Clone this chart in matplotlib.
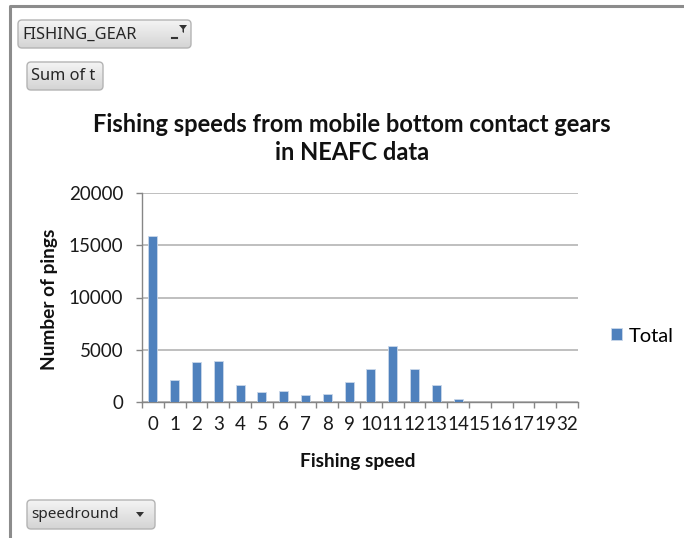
import numpy as np
import matplotlib
matplotlib.use("Agg")
import matplotlib.pyplot as plt
from matplotlib.patches import FancyBboxPatch, Polygon

# Pings per rounded fishing speed (knots)
speeds = ["0", "1", "2", "3", "4", "5", "6", "7", "8", "9", "10", "11",
          "12", "13", "14", "15", "16", "17", "19", "32"]
pings = [15900, 2150, 3820, 3910, 1600, 960, 1030, 670, 770, 1890, 3170,
         5380, 3170, 1600, 330, 30, 10, 5, 2, 1]
yticks = [0, 5000, 10000, 15000, 20000]

W, H = 684, 538
BLUE = "#4F81BD"
GRID = "#BFBFBF"
AXIS = "#868686"

plt.rcParams["font.family"] = ["Lato", "DejaVu Sans"]

fig = plt.figure(figsize=(W / 100, H / 100), dpi=100)
fig.patch.set_facecolor("white")


def fx(x):
    return x / W


def fy(y):
    return 1 - y / H


# background layer in pixel coordinates for the pivot frame and buttons
bg = fig.add_axes([0, 0, 1, 1])
bg.set_xlim(0, W)
bg.set_ylim(H, 0)
bg.axis("off")

bg.plot([10, 10, W], [H, 6, 6], color="#8C8C8C", lw=2.2, solid_capstyle="butt")


def button(x0, y0, x1, y1, label, size):
    box = FancyBboxPatch((x0, y0), x1 - x0, y1 - y0,
                         boxstyle="round,pad=0,rounding_size=4",
                         facecolor="none", edgecolor="#B4B4B4", lw=1)
    bg.add_patch(box)
    grad = np.linspace(0, 1, 50).reshape(-1, 1)
    im = bg.imshow(grad, cmap=matplotlib.colors.LinearSegmentedColormap.from_list(
        "btn", ["#F4F4F4", "#D4D4D4"]), extent=(x0, x1, y1, y0), aspect="auto",
        zorder=0.5)
    im.set_clip_path(box)
    bg.text(x0 + 4, (y0 + y1) / 2 + 0.5, label, ha="left", va="center",
            fontsize=size, color="#262626", family="Noto Sans")


button(18, 20, 191, 48, "FISHING_GEAR", 11.8)
button(27, 62, 103, 90, "Sum of t", 11.8)
button(27, 500, 155, 529, "speedround", 11)
bg.set_xlim(0, W)
bg.set_ylim(H, 0)

# filter and dropdown glyphs on the buttons
bg.add_patch(Polygon([[179, 25], [187, 25], [184, 29], [184, 33], [182.5, 32], [182.5, 29]],
                     closed=True, facecolor="#333333", edgecolor="none"))
bg.plot([172, 177], [38, 38], color="#333333", lw=1.5)
bg.add_patch(Polygon([[136, 512], [144, 512], [140, 517]], closed=True,
                     facecolor="#333333", edgecolor="none"))

# chart area
ax = fig.add_axes([fx(142), fy(402), fx(578) - fx(142), (402 - 193) / H])
x = np.arange(len(speeds))
ax.bar(x, pings, width=0.42, color=BLUE, edgecolor="#C9D7EA", linewidth=0.6,
       label="Total", zorder=3)

ax.set_xlim(-0.5, len(speeds) - 0.5)
ax.set_ylim(0, 20000)
ax.set_yticks(yticks)
ax.set_yticklabels([str(v) for v in yticks])
ax.set_xticks(x)
ax.set_xticklabels(speeds)
ax.set_xticks(np.arange(-0.5, len(speeds)), minor=True)
ax.yaxis.grid(True, color=GRID, lw=1.4, zorder=0)
ax.set_axisbelow(True)

for side in ["top", "right"]:
    ax.spines[side].set_visible(False)
for side in ["left", "bottom"]:
    ax.spines[side].set_color(AXIS)
    ax.spines[side].set_linewidth(1)

ax.tick_params(axis="y", length=4, width=1, color=AXIS, pad=9.5,
               labelsize=13.5, labelcolor="#1A1A1A")
ax.tick_params(axis="x", which="major", length=0, pad=10,
               labelsize=13.5, labelcolor="#1A1A1A")
ax.tick_params(axis="x", which="minor", length=4.5, width=1, color=AXIS)

fig.text(fx(352), fy(124), "Fishing speeds from mobile bottom contact gears",
         ha="center", va="center", fontsize=17, fontweight="bold", color="#111111")
fig.text(fx(352), fy(153), "in NEAFC data",
         ha="center", va="center", fontsize=17, fontweight="bold", color="#111111")
fig.text(fx(358), fy(462), "Fishing speed", ha="center", va="center",
         fontsize=13.8, fontweight="bold", color="#111111")
fig.text(fx(50), fy(299), "Number of pings", ha="center", va="center",
         rotation=90, fontsize=13.8, fontweight="bold", color="#111111")

ax.legend(loc="center left", bbox_to_anchor=(fx(611), fy(336)),
          bbox_transform=fig.transFigure, frameon=False, fontsize=14.5,
          handlelength=0.55, handleheight=0.55, handletextpad=0.35,
          borderaxespad=0, borderpad=0)

fig.savefig("out.png", dpi=100)
